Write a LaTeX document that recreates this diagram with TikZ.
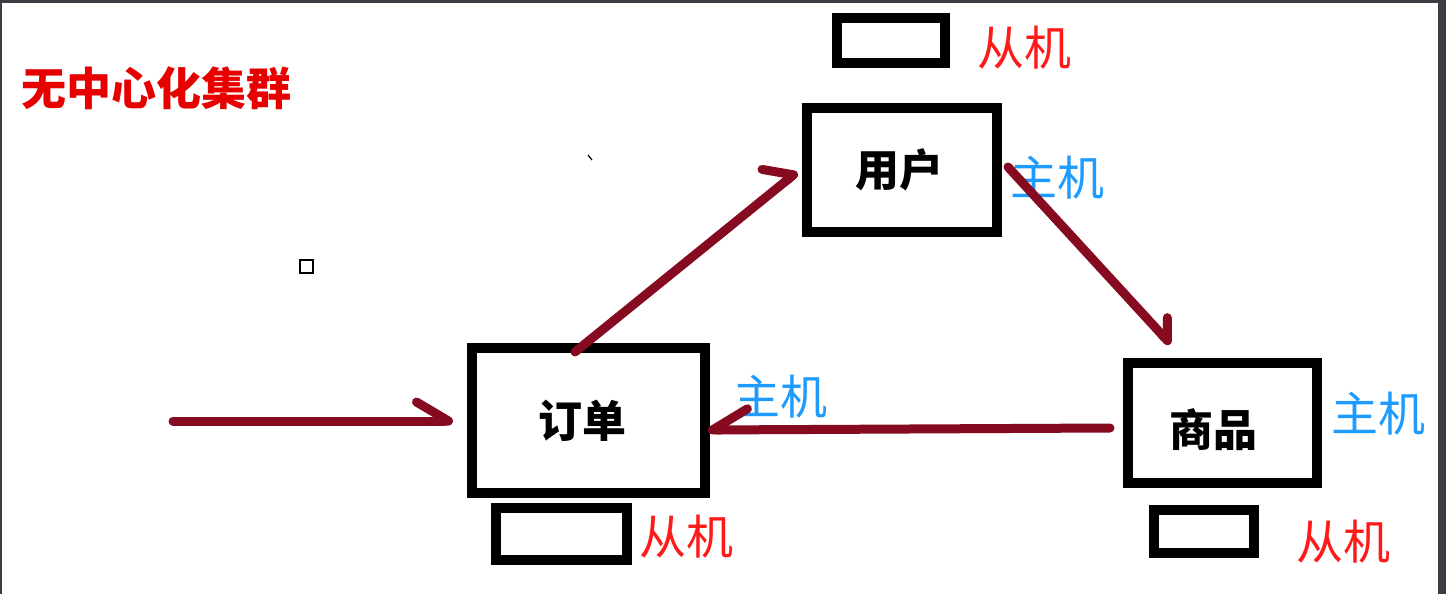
\documentclass[tikz,border=0pt]{standalone}
\usepackage{fontspec}
\newfontfamily\cjk{Noto Sans CJK SC}
\usetikzlibrary{arrows.meta,calc}

\definecolor{frame}{HTML}{3A3D42}
\definecolor{wire}{HTML}{860A20}
\definecolor{titlered}{HTML}{E60000}
\definecolor{slavered}{HTML}{FF1A1A}
\definecolor{masterblue}{HTML}{1E9BFF}

\tikzset{
  server/.style={draw=black, line width=10pt, rectangle, inner sep=0pt},
  servername/.style={inner sep=0pt, font=\cjk\bfseries\fontsize{44pt}{50pt}\selectfont},
  replica/.style={draw=black, line width=10pt, rectangle, inner sep=0pt},
  rolelabel/.style={inner sep=0pt, font=\cjk\fontsize{47pt}{52pt}\selectfont},
  master/.style={rolelabel, text=masterblue},
  slave/.style={rolelabel, text=slavered},
  link/.style={draw=wire, line width=9pt, line cap=round, line join=round},
}

\begin{document}
\begin{tikzpicture}[x=1pt, y=-1pt]
  % canvas and window edges
  \fill[white] (0,0) rectangle (1446,594);
  \useasboundingbox (0,0) rectangle (1446,594);
  \fill[frame] (0,0) rectangle (1446,3);
  \fill[frame] (0,0) rectangle (1.5,594);
  \fill[frame] (1438,0) rectangle (1446,594);

  % heading
  \node[inner sep=0pt, text=titlered, font=\cjk\bfseries\fontsize{45pt}{50pt}\selectfont]
    (title) at (156,88) {无中心化集群};

  % master servers
  \node[server, minimum width=190pt, minimum height=124pt] (user)  at (902,170)    {};
  \node[server, minimum width=233pt, minimum height=145pt] (order) at (588.5,420.5) {};
  \node[server, minimum width=189pt, minimum height=120pt] (goods) at (1222.5,423) {};
  \node[servername] (userN)  at ([shift={(-3,0)}]user.center)   {用户};
  \node[servername] (orderN) at ([shift={(-6,0)}]order.center)  {订单};
  \node[servername] (goodsN) at ([shift={(-9,7)}]goods.center)  {商品};

  % replicas
  \node[replica, minimum width=108pt, minimum height=45pt] (userS)  at (891,40.5) {};
  \node[replica, minimum width=131pt, minimum height=52pt] (orderS) at (561.5,534) {};
  \node[replica, minimum width=100pt, minimum height=43pt] (goodsS) at (1204,531.5) {};

  % role labels
  \node[slave]  (userSL)  at (1024,48)  {从机};
  \node[master] (userM)   at (1057,178) {主机};
  \node[master] (orderM)  at (780,397)  {主机};
  \node[slave]  (orderSL) at (686,537)  {从机};
  \node[master] (goodsM)  at (1378,414) {主机};
  \node[slave]  (goodsSL) at (1343,542) {从机};

  % stray marks
  \node[draw=black, line width=2pt, minimum size=13pt, inner sep=0pt] (dot) at (306.5,266.5) {};
  \coordinate (tickA) at (588,155);
  \coordinate (tickB) at (592,160);
  \draw[line width=1.2pt] (tickA) -- (tickB);

  % request entry
  \coordinate (client) at (173,421);
  \draw[link, -{Straight Barb[harpoon, round, length=32pt, width=38pt]}]
    (client) -- ([shift={(-14,0.5)}]order.west);

  % ring of forwarding
  \draw[link, -{Straight Barb[harpoon, round, length=21pt, width=48pt]}]
    ([shift={(-13.5,9)}]order.north) -- ([shift={(-5,2)}]user.west);
  \draw[link, -{Straight Barb[harpoon, round, length=17pt, width=31pt]}]
    ([shift={(6,-3)}]user.east) -- ([shift={(-52,-14)}]goods.north);
  \draw[link, -{Straight Barb[harpoon, swap, round, length=35pt, width=42pt]}]
    ([shift={(-13,5)}]goods.west) -- ([shift={(-2,9.5)}]order.east);
\end{tikzpicture}
\end{document}
